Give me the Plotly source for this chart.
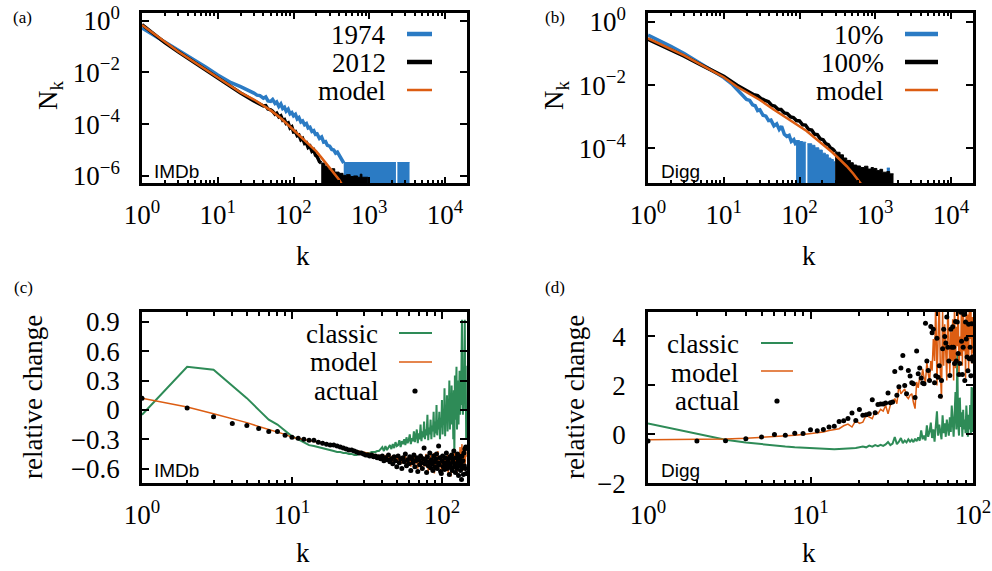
import plotly.graph_objects as go

# ------------------------------------------------------------------ data
# (a) IMDb degree distributions N_k
imdb_1974_k = [1, 1.5, 2, 3, 5, 7, 10, 15, 20, 26, 30, 33, 36, 40, 43, 46, 50, 53, 57, 60, 64, 68, 72, 76,
               80, 85, 90, 95, 100, 106, 112, 118, 125, 132, 140, 148, 156, 165, 175, 185, 195, 205,
               220, 235, 250, 265, 280, 300, 320, 340, 360, 380, 400, 420, 440, 460]
imdb_1974_N = [0.51, 0.25, 0.141, 0.0708, 0.0282, 0.0158, 0.00794, 0.00398, 0.00282, 0.002, 1.58e-3, 1.32e-3,
               1.26e-3, 1.0e-3, 1.12e-3, 7.9e-4, 7.6e-4, 8.9e-4, 6.3e-4, 7.1e-4, 4.8e-4, 6.0e-4, 4.0e-4, 4.5e-4,
               3.16e-4, 3.8e-4, 2.5e-4, 2.8e-4, 2.1e-4, 2.4e-4, 1.58e-4, 1.78e-4, 1.2e-4, 1.32e-4, 9.5e-5,
               1.05e-4, 7.1e-5, 7.6e-5, 5.2e-5, 5.6e-5, 4.0e-5, 4.2e-5, 2.8e-5, 3.2e-5, 2.0e-5, 2.1e-5,
               1.51e-5, 1.41e-5, 1.05e-5, 1.0e-5, 7.6e-6, 8.3e-6, 6.3e-6, 4.5e-6, 4.0e-6, 3.16e-6]
imdb_1974_tail1_k = [460, 2250]
imdb_1974_tail1_N = [3.3e-6, 3.3e-6]
imdb_1974_tail2_k = [2350, 3400]
imdb_1974_tail2_N = [3.3e-6, 3.3e-6]

imdb_2012_k = [1, 1.5, 2, 3, 5, 7, 10, 15, 20, 30, 33, 36, 40, 43, 46, 50, 53, 57, 60, 64, 68, 72, 76, 80,
               85, 90, 95, 100, 106, 112, 118, 125, 132, 140, 148, 156, 165, 175, 185, 195, 205, 220, 232]
imdb_2012_N = [0.70, 0.28, 0.14, 0.062, 0.0235, 0.0123, 0.0058, 0.0027, 0.00158, 7.9e-4, 6.8e-4, 6.3e-4,
               5.0e-4, 5.2e-4, 3.8e-4, 3.55e-4, 3.16e-4, 2.4e-4, 2.63e-4, 1.9e-4, 2.1e-4, 1.41e-4, 1.51e-4,
               1.05e-4, 1.12e-4, 7.1e-5, 7.9e-5, 5.0e-5, 5.2e-5, 3.55e-5, 3.8e-5, 2.5e-5, 2.8e-5, 1.78e-5,
               1.9e-5, 1.26e-5, 1.41e-5, 8.9e-6, 1.0e-5, 6.3e-6, 5.6e-6, 3.55e-6, 3.16e-6]
imdb_2012_tail_k = [232, 260, 290, 320, 350, 400, 450, 500, 560, 620, 700, 760, 800, 960]
imdb_2012_tail_N = [3.16e-6, 2.4e-6, 1.78e-6, 1.9e-6, 1.41e-6, 1.26e-6, 1.05e-6, 1.12e-6, 9.5e-7, 1.0e-6,
                    8.9e-7, 1.17e-6, 8.9e-7, 8.9e-7]

imdb_model_k = [1, 1.5, 2, 3, 5, 7, 10, 15, 20, 30, 50, 70, 100, 150, 200, 250, 300, 350, 400, 450]
imdb_model_N = [0.676, 0.282, 0.141, 0.0631, 0.024, 0.0126, 0.00603, 0.00282, 0.00166, 8.9e-4, 3.39e-4,
                1.58e-4, 6.0e-5, 1.9e-5, 8.9e-6, 4.0e-6, 2.1e-6, 1.2e-6, 7.1e-7, 4.0e-7]

# (b) Digg degree distributions N_k
digg_10_k = [1, 1.5, 2, 3, 5, 7, 10, 13, 16, 18, 20, 22, 24, 26, 28, 30, 33, 36, 39, 42, 46, 50, 54, 58,
             63, 68, 73, 78, 84, 90]
digg_10_N = [0.38, 0.24, 0.17, 0.1, 0.048, 0.030, 0.0174, 0.0105, 0.0063, 4.7e-3, 3.55e-3, 3.3e-3, 2.4e-3,
             2.24e-3, 1.58e-3, 1.66e-3, 1.12e-3, 1.05e-3, 7.6e-4, 7.9e-4, 5.2e-4, 6.0e-4, 4.0e-4, 5.0e-4,
             2.8e-4, 2.4e-4, 2.6e-4, 1.66e-4, 1.9e-4, 1.26e-4]
digg_10_tail1_k = [90, 100, 110, 121]
digg_10_tail1_N = [1.78e-4, 1.66e-4, 1.58e-4, 1.51e-4]
digg_10_tail2_k = [127, 145, 160, 180, 200, 220, 240, 260, 280, 295]
digg_10_tail2_N = [1.41e-4, 1.26e-4, 1.05e-4, 8.9e-5, 7.1e-5, 6.3e-5, 5.0e-5, 4.5e-5, 3.8e-5, 3.55e-5]
digg_10_tail3_k = [1420, 1560]
digg_10_tail3_N = [2.4e-5, 2.4e-5]

digg_100_k = [1, 1.5, 2, 3, 5, 7, 10, 15, 20, 22, 25, 28, 31, 35, 39, 43, 47, 52, 57, 63, 69, 76, 83, 91,
              100, 110, 120, 132, 145, 158, 172, 188, 205, 222, 240, 255, 275, 295]
digg_100_N = [0.282, 0.182, 0.132, 0.083, 0.0437, 0.0288, 0.019, 0.01, 0.0069, 6.3e-3, 5.0e-3, 4.7e-3,
              3.8e-3, 3.3e-3, 3.0e-3, 2.3e-3, 2.2e-3, 1.74e-3, 1.7e-3, 1.32e-3, 1.26e-3, 1.0e-3, 9.5e-4,
              7.6e-4, 7.4e-4, 5.6e-4, 5.5e-4, 4.0e-4, 3.8e-4, 2.8e-4, 2.75e-4, 2.0e-4, 1.9e-4, 1.41e-4,
              1.32e-4, 1.05e-4, 9.5e-5, 7.9e-5]
digg_100_tail_k = [295, 310, 343, 380, 420, 470, 513, 570, 640, 720, 800, 880, 946, 1050, 1150, 1250, 1420,
                   1550, 1740]
digg_100_tail_N = [7.9e-5, 7.6e-5, 6.3e-5, 5.0e-5, 4.2e-5, 3.55e-5, 3.0e-5, 2.8e-5, 2.5e-5, 2.75e-5,
                   2.24e-5, 2.5e-5, 2.34e-5, 2.0e-5, 2.2e-5, 1.78e-5, 1.86e-5, 1.58e-5, 1.58e-5]

digg_model_k = [1, 1.5, 2, 3, 5, 7, 10, 15, 20, 30, 45, 70, 100, 124, 160, 207, 270, 343, 420, 513, 580, 650]
digg_model_N = [0.302, 0.19, 0.138, 0.087, 0.0447, 0.0282, 0.0178, 0.0089, 0.006, 0.0034, 0.00174, 8.9e-4,
                5.2e-4, 3.55e-4, 2.14e-4, 1.29e-4, 7.6e-5, 4.4e-5, 2.75e-5, 1.6e-5, 1.12e-5, 7.6e-6]

# (c) IMDb relative change, k = 1 ... 145
imdb_rel_k = list(range(1, 146))
imdb_classic = [-0.05, 0.44, 0.41, 0.25, 0.12, 0.0, -0.10, -0.15, -0.21, -0.27,
                -0.30, -0.33, -0.36, -0.37, -0.38, -0.39, -0.40, -0.41, -0.42, -0.43,
                -0.43, -0.44, -0.44, -0.45, -0.45, -0.46, -0.46, -0.45, -0.45, -0.45,
                -0.44, -0.44, -0.44, -0.43, -0.43, -0.43, -0.42, -0.42, -0.40, -0.38,
                -0.42, -0.37, -0.41, -0.38, -0.36, -0.40, -0.35, -0.39, -0.33, -0.37,
                -0.36, -0.31, -0.38, -0.32, -0.35, -0.30, -0.36, -0.28, -0.34, -0.31,
                -0.25, -0.35, -0.29, -0.32, -0.22, -0.33, -0.27, -0.20, -0.34, -0.24,
                -0.30, -0.15, -0.32, -0.22, -0.28, -0.12, -0.30, -0.20, -0.26, -0.05,
                -0.31, -0.18, -0.25, -0.10, -0.30, -0.16, -0.22, -0.02, -0.28, -0.12,
                -0.24, 0.05, -0.26, -0.10, -0.20, -0.02, -0.30, -0.08, -0.18, 0.10,
                -0.25, -0.05, -0.15, 0.22, -0.27, 0.02, -0.12, 0.15, -0.22, 0.05,
                -0.10, 0.30, -0.20, 0.08, -0.15, 0.25, -0.05, 0.12, -0.30, 0.20,
                -0.48, 0.35, -0.10, 0.10, 0.44, -0.20, 0.05, 0.30, -0.15, 0.15,
                0.40, -0.05, 0.20, 0.05, 0.45, 0.92, 0.10, -0.05, 0.30, 0.0,
                0.50, 0.92, 0.15, 0.45, -0.30]
imdb_model_rel = [0.12, 0.03, -0.04, -0.09, -0.13, -0.17, -0.20, -0.22, -0.25, -0.28,
                  -0.29, -0.30, -0.31, -0.32, -0.33, -0.34, -0.35, -0.36, -0.37, -0.38,
                  -0.385, -0.39, -0.395, -0.40, -0.405, -0.41, -0.415, -0.42, -0.425, -0.43,
                  -0.435, -0.44, -0.445, -0.45, -0.455, -0.46, -0.46, -0.465, -0.47, -0.47,
                  -0.50, -0.46, -0.51, -0.48, -0.52, -0.47, -0.53, -0.49, -0.51, -0.46,
                  -0.54, -0.50, -0.48, -0.55, -0.49, -0.52, -0.45, -0.56, -0.50, -0.53,
                  -0.47, -0.58, -0.51, -0.49, -0.56, -0.44, -0.55, -0.50, -0.60, -0.48,
                  -0.54, -0.51, -0.62, -0.47, -0.55, -0.50, -0.58, -0.45, -0.56, -0.52,
                  -0.63, -0.49, -0.55, -0.46, -0.60, -0.51, -0.54, -0.44, -0.65, -0.50,
                  -0.57, -0.48, -0.55, -0.42, -0.60, -0.52, -0.56, -0.47, -0.66, -0.50,
                  -0.55, -0.45, -0.60, -0.53, -0.48, -0.62, -0.50, -0.57, -0.44, -0.65,
                  -0.52, -0.47, -0.58, -0.50, -0.68, -0.46, -0.55, -0.42, -0.60, -0.50,
                  -0.56, -0.40, -0.62, -0.52, -0.45, -0.66, -0.50, -0.43, -0.58, -0.48,
                  -0.55, -0.38, -0.60, -0.47, -0.52, -0.35, -0.58, -0.45, -0.62, -0.40,
                  -0.50, -0.36, -0.55, -0.42, -0.48]
imdb_actual = [0.12, 0.02, -0.07, -0.14, -0.16, -0.19, -0.22, -0.22, -0.26, -0.28,
               -0.29, -0.30, -0.31, -0.31, -0.33, -0.34, -0.35, -0.36, -0.36, -0.37,
               -0.38, -0.39, -0.40, -0.41, -0.41, -0.42, -0.43, -0.44, -0.44, -0.45,
               -0.46, -0.46, -0.47, -0.46, -0.48, -0.47, -0.49, -0.48, -0.50, -0.47,
               -0.52, -0.49, -0.51, -0.46, -0.53, -0.50, -0.55, -0.48, -0.52, -0.58,
               -0.47, -0.54, -0.50, -0.60, -0.49, -0.53, -0.45, -0.57, -0.51, -0.55,
               -0.48, -0.62, -0.50, -0.54, -0.46, -0.58, -0.52, -0.49, -0.63, -0.51,
               -0.56, -0.47, -0.54, -0.60, -0.50, -0.39, -0.55, -0.52, -0.64, -0.48,
               -0.57, -0.53, -0.44, -0.59, -0.51, -0.55, -0.62, -0.47, -0.53, -0.58,
               -0.50, -0.45, -0.60, -0.54, -0.37, -0.56, -0.49, -0.63, -0.65, -0.52,
               -0.47, -0.58, -0.54, -0.61, -0.49, -0.56, -0.44, -0.60, -0.53, -0.57,
               -0.50, -0.66, -0.48, -0.55, -0.59, -0.46, -0.62, -0.53, -0.50, -0.42,
               -0.58, -0.55, -0.64, -0.49, -0.56, -0.60, -0.45, -0.53, -0.67, -0.51,
               -0.57, -0.48, -0.62, -0.55, -0.71, -0.47, -0.58, -0.52, -0.66, -0.44,
               -0.57, -0.40, -0.60, -0.38, -0.65]

# (d) Digg relative change, k = 1 ... 100
digg_rel_k = list(range(1, 101))
digg_classic = [0.44, 0.04, -0.22, -0.33, -0.41, -0.46, -0.50, -0.53, -0.55, -0.56,
                -0.58, -0.59, -0.60, -0.61, -0.60, -0.60, -0.58, -0.57, -0.56, -0.52,
                -0.50, -0.53, -0.46, -0.50, -0.44, -0.48, -0.43, -0.47, -0.41, -0.31,
                -0.44, -0.38, -0.11, -0.40, -0.30, -0.15, -0.36, -0.25, -0.33, -0.20,
                -0.30, -0.22, -0.32, -0.18, -0.28, -0.12, -0.26, 0.16, -0.20, -0.05,
                -0.25, 0.37, -0.10, 0.10, 0.48, -0.15, 0.20, -0.30, 0.30, 0.94,
                -0.05, 0.40, 0.10, -0.20, 0.78, 0.05, 0.45, -0.10, 0.60, 0.20,
                -0.05, 0.70, 0.10, 1.18, 0.30, -0.10, 0.80, 1.73, 0.20, 3.22,
                0.50, -0.05, 1.50, 0.30, 0.90, -0.10, 1.00, 0.20, 0.60, 0.05,
                1.18, 0.40, -0.10, 0.80, 0.20, 1.20, 0.00, 1.93, 0.10, 1.90]
digg_model_rel = [-0.22, -0.21, -0.19, -0.16, -0.13, -0.10, -0.07, -0.04, -0.01, 0.02,
                  0.06, 0.10, 0.16, 0.20, 0.23, 0.35, 0.42, 0.30, 0.57, 0.45,
                  0.50, 0.78, 0.70, 0.64, 0.94, 0.85, 1.02, 0.95, 1.18, 0.84,
                  1.20, 1.32, 1.46, 1.25, 2.00, 1.66, 1.75, 1.86, 1.55, 1.46,
                  1.60, 1.66, 1.30, 1.05, 2.14, 1.90, 2.34, 2.20, 2.68, 2.30,
                  2.14, 2.95, 2.50, 2.14, 3.00, 2.60, 3.90, 3.00, 5.50, 2.00,
                  4.00, 5.50, 2.50, 1.46, 5.00, 2.80, 4.50, 3.20, 2.20, 5.50,
                  3.50, 2.50, 4.20, 3.00, 4.70, 2.20, 5.50, 2.70, 4.40, 3.60,
                  5.50, 2.40, 4.00, 3.20, 5.50, 2.80, 5.50, 3.40, 4.60, 2.30,
                  5.50, 3.10, 4.90, 2.60, 5.50, 3.90, 5.50, 2.90, 4.80, 3.30]
digg_actual = [-0.27, -0.27, -0.26, -0.18, -0.11, -0.01, -0.04, 0.05, 0.03, 0.19,
               0.15, 0.20, 0.30, 0.33, 0.53, 0.56, 0.65, 0.87, 0.57, 1.02,
               0.78, 0.80, 0.84, 1.41, 0.88, 1.22, 1.24, 1.24, 1.28, 1.69,
               1.29, 1.32, 2.57, 1.60, 1.95, 2.71, 3.22, 2.00, 1.66, 2.61,
               2.38, 2.11, 2.07, 1.51, 3.41, 2.48, 2.71, 2.30, 2.10, 2.07,
               4.54, 3.00, 2.61, 2.20, 4.41, 4.15, 4.29, 2.11, 2.40, 3.93,
               2.33, 2.80, 1.56, 2.20, 3.50, 4.29, 4.00, 3.73, 4.80, 3.56,
               3.00, 2.41, 4.30, 3.56, 4.40, 3.56, 2.90, 4.61, 3.00, 4.59,
               3.30, 2.45, 2.90, 4.99, 3.80, 2.45, 3.56, 4.90, 2.20, 4.59,
               3.90, 3.16, 2.60, 4.50, 3.09, 3.56, 2.40, 4.52, 3.16, 3.00]

# tick labels
dist_x_ticks = [1, 10, 100, 1000, 10000]
dist_x_text = ["10<sup>0</sup>", "10<sup>1</sup>", "10<sup>2</sup>", "10<sup>3</sup>", "10<sup>4</sup>"]
dist_y_ticks = [1, 1e-2, 1e-4, 1e-6]
dist_y_text = ["10<sup>0</sup>", "10<sup>\u22122</sup>", "10<sup>\u22124</sup>", "10<sup>\u22126</sup>"]
rel_x_ticks = [1, 10, 100]
rel_x_text = ["10<sup>0</sup>", "10<sup>1</sup>", "10<sup>2</sup>"]
imdb_rel_y_ticks = [-0.6, -0.3, 0, 0.3, 0.6, 0.9]
imdb_rel_y_text = ["\u22120.6", "\u22120.3", "0", "0.3", "0.6", "0.9"]
digg_rel_y_ticks = [-2, 0, 2, 4]
digg_rel_y_text = ["\u22122", "0", "2", "4"]

legend_a = ["1974", "2012", "model"]
legend_b = ["10%", "100%", "model"]
legend_cd = ["classic", "model", "actual"]

# ------------------------------------------------------------------ style
W, H = 992, 571
BLUE = "#2b7bc4"
ORANGE = "#dc5d12"
GREEN = "#2e8b57"
SERIF = "'Liberation Serif', 'Times New Roman', 'DejaVu Serif', serif"
SANS = "'Liberation Sans', Arial, sans-serif"


def px(x):
    return x / W


def py(y):
    return 1 - y / H


fig = go.Figure()

# (a)
fig.add_trace(go.Scatter(x=imdb_1974_k, y=imdb_1974_N, mode="lines", line=dict(color=BLUE, width=3.5),
                         xaxis="x", yaxis="y"))
for kk, nn in [(imdb_1974_tail1_k, imdb_1974_tail1_N), (imdb_1974_tail2_k, imdb_1974_tail2_N)]:
    fig.add_trace(go.Scatter(x=kk, y=nn, mode="lines", line=dict(color=BLUE, width=1, shape="hv"),
                             fill="tozeroy", fillcolor=BLUE, xaxis="x", yaxis="y"))
fig.add_trace(go.Scatter(x=imdb_2012_k, y=imdb_2012_N, mode="lines", line=dict(color="black", width=3.5),
                         xaxis="x", yaxis="y"))
fig.add_trace(go.Scatter(x=imdb_2012_tail_k, y=imdb_2012_tail_N, mode="lines",
                         line=dict(color="black", width=1, shape="hv"), fill="tozeroy", fillcolor="black",
                         xaxis="x", yaxis="y"))
fig.add_trace(go.Scatter(x=imdb_model_k, y=imdb_model_N, mode="lines", line=dict(color=ORANGE, width=2.5),
                         xaxis="x", yaxis="y"))

# (b)
fig.add_trace(go.Scatter(x=digg_10_k, y=digg_10_N, mode="lines", line=dict(color=BLUE, width=3.5),
                         xaxis="x2", yaxis="y2"))
for kk, nn in [(digg_10_tail1_k, digg_10_tail1_N), (digg_10_tail2_k, digg_10_tail2_N),
               (digg_10_tail3_k, digg_10_tail3_N)]:
    fig.add_trace(go.Scatter(x=kk, y=nn, mode="lines", line=dict(color=BLUE, width=1, shape="hv"),
                             fill="tozeroy", fillcolor=BLUE, xaxis="x2", yaxis="y2"))
fig.add_trace(go.Scatter(x=digg_100_k, y=digg_100_N, mode="lines", line=dict(color="black", width=3.5),
                         xaxis="x2", yaxis="y2"))
fig.add_trace(go.Scatter(x=digg_100_tail_k, y=digg_100_tail_N, mode="lines",
                         line=dict(color="black", width=1, shape="hv"), fill="tozeroy", fillcolor="black",
                         xaxis="x2", yaxis="y2"))
fig.add_trace(go.Scatter(x=digg_model_k, y=digg_model_N, mode="lines", line=dict(color=ORANGE, width=2.5),
                         xaxis="x2", yaxis="y2"))

# (c)
fig.add_trace(go.Scatter(x=imdb_rel_k, y=imdb_classic, mode="lines", line=dict(color=GREEN, width=2),
                         xaxis="x3", yaxis="y3"))
fig.add_trace(go.Scatter(x=imdb_rel_k, y=imdb_model_rel, mode="lines", line=dict(color=ORANGE, width=1.5),
                         xaxis="x3", yaxis="y3"))
fig.add_trace(go.Scatter(x=imdb_rel_k, y=imdb_actual, mode="markers", marker=dict(color="black", size=5),
                         xaxis="x3", yaxis="y3"))

# (d)
fig.add_trace(go.Scatter(x=digg_rel_k, y=digg_classic, mode="lines", line=dict(color=GREEN, width=2),
                         xaxis="x4", yaxis="y4"))
fig.add_trace(go.Scatter(x=digg_rel_k, y=digg_model_rel, mode="lines", line=dict(color=ORANGE, width=1.5),
                         xaxis="x4", yaxis="y4"))
fig.add_trace(go.Scatter(x=digg_rel_k, y=digg_actual, mode="markers", marker=dict(color="black", size=5),
                         xaxis="x4", yaxis="y4"))


def minor_vals(d0, d1):
    return [m * 10 ** d for d in range(d0, d1 + 1) for m in range(2, 10)]


common = dict(showline=True, linecolor="black", linewidth=2.5, mirror="ticks", ticks="inside",
              ticklen=7, tickwidth=2, tickcolor="black", showgrid=False, zeroline=False, automargin=False,
              ticklabeloverflow="allow",
              tickfont=dict(family=SERIF, size=27, color="black"))
minor_style = dict(ticks="inside", ticklen=4, tickwidth=1.5, tickcolor="black", tickmode="array",
                   showgrid=False)

xdom_l = [px(142), px(467)]
xdom_r = [px(648), px(973)]
ydom_t = [py(183.3), py(12.7)]
ydom_b = [py(483.3), py(312)]

fig.update_layout(
    xaxis=dict(common, type="log", domain=xdom_l, anchor="y", range=[0, 4.29], tickmode="array",
               tickvals=dist_x_ticks, ticktext=dist_x_text, ticklabelstandoff=6,
               minor=dict(minor_style, tickvals=minor_vals(0, 4))),
    yaxis=dict(common, type="log", domain=ydom_t, anchor="x", range=[-6.284, 0.301], tickmode="array",
               tickvals=dist_y_ticks, ticktext=dist_y_text, ticklabelstandoff=14),
    xaxis2=dict(common, type="log", domain=xdom_r, anchor="y2", range=[0, 4.29], tickmode="array",
                tickvals=dist_x_ticks, ticktext=dist_x_text, ticklabelstandoff=6,
                minor=dict(minor_style, tickvals=minor_vals(0, 4))),
    yaxis2=dict(common, type="log", domain=ydom_t, anchor="x2", range=[-5.1, 0.29], tickmode="array",
                tickvals=dist_y_ticks[:3], ticktext=dist_y_text[:3], ticklabelstandoff=14),
    xaxis3=dict(common, type="log", domain=xdom_l, anchor="y3", range=[0, 2.167], tickmode="array",
                tickvals=rel_x_ticks, ticktext=rel_x_text, ticklabelstandoff=6,
                minor=dict(minor_style, tickvals=minor_vals(0, 2))),
    yaxis3=dict(common, domain=ydom_b, anchor="x3", range=[-0.75, 1.0], tickmode="array",
                tickvals=imdb_rel_y_ticks, ticktext=imdb_rel_y_text, ticklabelstandoff=14),
    xaxis4=dict(common, type="log", domain=xdom_r, anchor="y4", range=[0, 2], tickmode="array",
                tickvals=rel_x_ticks, ticktext=rel_x_text, ticklabelstandoff=6,
                minor=dict(minor_style, tickvals=minor_vals(0, 1))),
    yaxis4=dict(common, domain=ydom_b, anchor="x4", range=[-2, 5], tickmode="array",
                tickvals=digg_rel_y_ticks, ticktext=digg_rel_y_text, ticklabelstandoff=14),
    width=W, height=H, margin=dict(l=0, r=0, t=0, b=0, autoexpand=False),
    paper_bgcolor="white", plot_bgcolor="white", showlegend=False,
    font=dict(family=SERIF, size=27, color="black"),
)

ann = []
shapes = []


def text(x, y, s, size=27, family=SERIF, xanchor="center", angle=0):
    ann.append(dict(x=px(x), y=py(y), xref="paper", yref="paper", text=s, showarrow=False,
                    xanchor=xanchor, yanchor="middle", textangle=angle,
                    font=dict(family=family, size=size, color="black")))


# panel letters
text(22, 18, "(a)", 17)
text(555, 18, "(b)", 17)
text(23, 287, "(c)", 17)
text(555, 287, "(d)", 17)
# axis titles
text(303, 256, "k")
text(809, 256, "k")
text(303, 553, "k")
text(809, 553, "k")
text(50, 95, "N<sub>k</sub>", angle=-90)
text(556, 95, "N<sub>k</sub>", angle=-90)
text(33, 397, "relative change", angle=-90)
text(575, 397, "relative change", angle=-90)
# dataset names
text(152, 172, "IMDb", 19, SANS, "left")
text(659, 171, "Digg", 19, SANS, "left")
text(152, 470, "IMDb", 19, SANS, "left")
text(659, 470, "Digg", 19, SANS, "left")


def line_sample(x0, x1, y, color, width):
    shapes.append(dict(type="line", xref="paper", yref="paper", x0=px(x0), x1=px(x1), y0=py(y), y1=py(y),
                       line=dict(color=color, width=width)))


def dot_sample(x, y, r=2.6):
    shapes.append(dict(type="circle", xref="paper", yref="paper", x0=px(x - r), x1=px(x + r),
                       y0=py(y + r), y1=py(y - r), fillcolor="black", line=dict(width=0)))


# legend (a)
for lab, yy, col, w in zip(legend_a, [35, 63, 91], [BLUE, "black", ORANGE], [4.5, 4.5, 2.5]):
    text(388, yy, lab, xanchor="right")
    line_sample(407, 432, yy - 1, col, w)
# legend (b)
for lab, yy, col, w in zip(legend_b, [35, 63, 91], [BLUE, "black", ORANGE], [4.5, 4.5, 2.5]):
    text(886, yy, lab, xanchor="right")
    line_sample(905, 938, yy - 1, col, w)
# legend (c)
for lab, yy in zip(legend_cd, [334, 362, 391]):
    text(380, yy, lab, xanchor="right")
line_sample(399, 432, 333, GREEN, 2)
line_sample(399, 432, 362, ORANGE, 1.5)
dot_sample(415, 391)
# legend (d)
for lab, yy in zip(legend_cd, [344, 373, 401]):
    text(741, yy, lab, xanchor="right")
line_sample(761, 793, 343, GREEN, 2)
line_sample(761, 793, 371, ORANGE, 1.5)
dot_sample(777, 401)

fig.update_layout(annotations=ann, shapes=shapes)
# place the figure flush with the window's top-left corner, without the mode bar
fig.write_html("out.html", config={"displayModeBar": False},
               post_script="document.body.style.margin='0px';"
                           "document.body.style.overflow='hidden';")
